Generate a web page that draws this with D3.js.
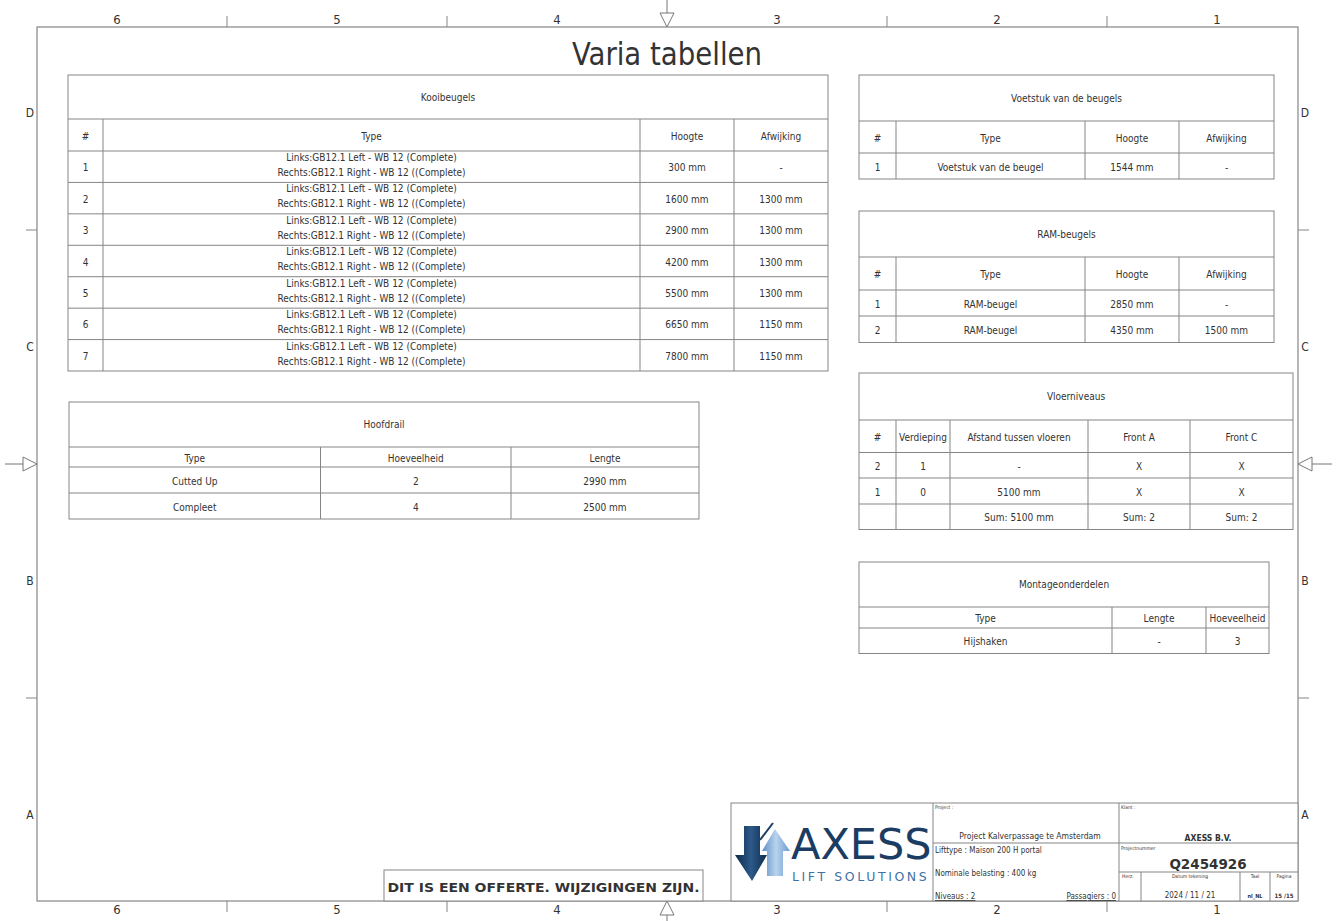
<!DOCTYPE html>
<html><head><meta charset="utf-8">
<script src="https://cdn.jsdelivr.net/npm/d3@7"></script>
<style>
html,body{margin:0;padding:0;background:#fff;}
svg{display:block;}
text{fill:#333;}
</style></head>
<body>
<svg id="c" width="1337" height="921"></svg>
<script>
// ---------- DATA ----------
const pageTitle = "Varia tabellen";
const zoneNumbers = ["6","5","4","3","2","1"];
const zoneLetters = ["D","C","B","A"];

const kooiTitle = "Kooibeugels";
const kooiHeaders = ["#","Type","Hoogte","Afwijking"];
const kooiNr = ["1","2","3","4","5","6","7"];
const kooiLinks = ["Links:GB12.1 Left - WB 12 (Complete)","Links:GB12.1 Left - WB 12 (Complete)","Links:GB12.1 Left - WB 12 (Complete)","Links:GB12.1 Left - WB 12 (Complete)","Links:GB12.1 Left - WB 12 (Complete)","Links:GB12.1 Left - WB 12 (Complete)","Links:GB12.1 Left - WB 12 (Complete)"];
const kooiRechts = ["Rechts:GB12.1 Right - WB 12 ((Complete)","Rechts:GB12.1 Right - WB 12 ((Complete)","Rechts:GB12.1 Right - WB 12 ((Complete)","Rechts:GB12.1 Right - WB 12 ((Complete)","Rechts:GB12.1 Right - WB 12 ((Complete)","Rechts:GB12.1 Right - WB 12 ((Complete)","Rechts:GB12.1 Right - WB 12 ((Complete)"];
const kooiHoogte = ["300 mm","1600 mm","2900 mm","4200 mm","5500 mm","6650 mm","7800 mm"];
const kooiAfwijking = ["-","1300 mm","1300 mm","1300 mm","1300 mm","1150 mm","1150 mm"];

const railTitle = "Hoofdrail";
const railHeaders = ["Type","Hoeveelheid","Lengte"];
const railType = ["Cutted Up","Compleet"];
const railAantal = ["2","4"];
const railLengte = ["2990 mm","2500 mm"];

const voetTitle = "Voetstuk van de beugels";
const voetHeaders = ["#","Type","Hoogte","Afwijking"];
const voetNr = ["1"];
const voetType = ["Voetstuk van de beugel"];
const voetHoogte = ["1544 mm"];
const voetAfwijking = ["-"];

const ramTitle = "RAM-beugels";
const ramHeaders = ["#","Type","Hoogte","Afwijking"];
const ramNr = ["1","2"];
const ramType = ["RAM-beugel","RAM-beugel"];
const ramHoogte = ["2850 mm","4350 mm"];
const ramAfwijking = ["-","1500 mm"];

const vloerTitle = "Vloerniveaus";
const vloerHeaders = ["#","Verdieping","Afstand tussen vloeren","Front A","Front C"];
const vloerNr = ["2","1",""];
const vloerVerdieping = ["1","0",""];
const vloerAfstand = ["-","5100 mm","Sum: 5100 mm"];
const vloerFrontA = ["X","X","Sum: 2"];
const vloerFrontC = ["X","X","Sum: 2"];

const montTitle = "Montageonderdelen";
const montHeaders = ["Type","Lengte","Hoeveelheid"];
const montType = ["Hijshaken"];
const montLengte = ["-"];
const montAantal = ["3"];

const tbProject = "Project Kalverpassage te Amsterdam";
const tbLifttype = "Lifttype : Maison 200 H portal";
const tbBelasting = "Nominale belasting : 400 kg";
const tbNiveaus = "Niveaus : 2";
const tbPassagiers = "Passagiers : 0";
const tbKlant = "AXESS B.V.";
const tbProjectnr = "Q2454926";
const tbDatum = "2024 / 11 / 21";
const tbTaal = "nl_NL";
const tbPagina = "15 /15";
const offerteText = "DIT IS EEN OFFERTE. WIJZIGINGEN ZIJN.";

// ---------- DRAWING ----------
const svg = d3.select("#c");
const LINE = "#858585";
const FONT = "'DejaVu Sans Condensed','DejaVu Sans',sans-serif";

const F = {x0:37, x1:1298, y0:27, y1:901};
svg.append("rect").attr("x",F.x0).attr("y",F.y0).attr("width",F.x1-F.x0).attr("height",F.y1-F.y0)
  .attr("fill","none").attr("stroke",LINE).attr("stroke-width",1.2);

// zone scales
const zx = d3.scaleLinear().domain([0,6]).range([667-660,667+660]);
const zy = d3.scaleLinear().domain([0,4]).range([464-468,464+468]);
const frame = svg.append("g");
zoneNumbers.forEach((n,i)=>{
  const cx = zx(i+0.5);
  frame.append("text").attr("x",cx).attr("y",24).attr("text-anchor","middle")
    .attr("font-family",FONT).attr("font-size",13).text(n);
  frame.append("text").attr("x",cx).attr("y",914).attr("text-anchor","middle")
    .attr("font-family",FONT).attr("font-size",13).text(n);
});
[1,2,4,5].forEach(i=>{
  const x = zx(i);
  frame.append("line").attr("x1",x).attr("x2",x).attr("y1",16).attr("y2",F.y0).attr("stroke",LINE);
  frame.append("line").attr("x1",x).attr("x2",x).attr("y1",F.y1).attr("y2",912).attr("stroke",LINE);
});
zoneLetters.forEach((l,i)=>{
  const cy = zy(i+0.5);
  frame.append("text").attr("x",30).attr("y",cy+4).attr("text-anchor","middle")
    .attr("font-family",FONT).attr("font-size",12).text(l);
  frame.append("text").attr("x",1305).attr("y",cy+4).attr("text-anchor","middle")
    .attr("font-family",FONT).attr("font-size",12).text(l);
});
[1,3].forEach(i=>{
  const y = zy(i);
  frame.append("line").attr("x1",26).attr("x2",F.x0).attr("y1",y).attr("y2",y).attr("stroke",LINE);
  frame.append("line").attr("x1",F.x1).attr("x2",1309).attr("y1",y).attr("y2",y).attr("stroke",LINE);
});
// centering arrows
const arr = frame.append("g").attr("fill","#fff").attr("stroke","#777").attr("stroke-width",1);
arr.append("line").attr("x1",667).attr("x2",667).attr("y1",0).attr("y2",13);
arr.append("path").attr("d","M660,13L674,13L667,27Z");
arr.append("line").attr("x1",667).attr("x2",667).attr("y1",915).attr("y2",921);
arr.append("path").attr("d","M660,915L674,915L667,901Z");
arr.append("line").attr("x1",5).attr("x2",23).attr("y1",464).attr("y2",464);
arr.append("path").attr("d","M23,457L23,471L37,464Z");
arr.append("line").attr("x1",1312).attr("x2",1332).attr("y1",464).attr("y2",464);
arr.append("path").attr("d","M1312,457L1312,471L1298,464Z");

// Title
svg.append("text").attr("x",667).attr("y",65).attr("text-anchor","middle")
  .attr("font-family","'DejaVu Sans Condensed','DejaVu Sans',sans-serif").attr("font-size",32)
  .attr("textLength",190).attr("lengthAdjust","spacingAndGlyphs").attr("fill","#111").text(pageTitle);

// generic table
function drawTable(cols, rows, title, headers, columns, opts={}) {
  const g = svg.append("g");
  const x0 = cols[0], x1 = cols[cols.length-1];
  const y0 = rows[0], y1 = rows[rows.length-1];
  g.append("rect").attr("x",x0).attr("y",y0).attr("width",x1-x0).attr("height",y1-y0)
    .attr("fill","#fff").attr("stroke",LINE).attr("stroke-width",1);
  rows.slice(1,-1).forEach(y=>{
    g.append("line").attr("x1",x0).attr("x2",x1).attr("y1",y).attr("y2",y).attr("stroke",LINE);
  });
  cols.slice(1,-1).forEach(x=>{
    g.append("line").attr("x1",x).attr("x2",x).attr("y1",rows[1]).attr("y2",y1).attr("stroke",LINE);
  });
  const txt = (x,y,s) => g.append("text").attr("x",x).attr("y",y).attr("text-anchor","middle")
      .attr("dominant-baseline","central").attr("font-family",FONT).attr("font-size",opts.fs||10).text(s);
  txt((x0+x1)/2,(rows[0]+rows[1])/2,title);
  headers.forEach((h,j)=>{
    txt((cols[j]+cols[j+1])/2,(rows[1]+rows[2])/2+1,h);
  });
  const n = columns[0].length;
  for (let i=0;i<n;i++){
    const ra = rows[2+i], rb = rows[3+i];
    columns.forEach((col,j)=>{
      const cx = (cols[j]+cols[j+1])/2;
      const v = col[i];
      if (Array.isArray(v)) {
        txt(cx, ra+6.5, v[0]);
        txt(cx, ra+21.5, v[1]);
      } else {
        txt(cx,(ra+rb)/2+1,v);
      }
    });
  }
  return g;
}

// Kooibeugels
const kooiRowY = d3.scaleLinear().domain([0,kooiNr.length]).range([151,371]);
drawTable([68,103,640,734,828],
  [75,119,...d3.range(kooiNr.length+1).map(i=>kooiRowY(i))],
  kooiTitle, kooiHeaders,
  [kooiNr, kooiLinks.map((l,i)=>[l,kooiRechts[i]]), kooiHoogte, kooiAfwijking]);

// Hoofdrail
drawTable([69,320.5,511,699],[402,447,467,493,519],
  railTitle, railHeaders, [railType, railAantal, railLengte]);

// Voetstuk
drawTable([859,896,1085,1179,1274],[75,121,153,179],
  voetTitle, voetHeaders, [voetNr, voetType, voetHoogte, voetAfwijking]);

// RAM-beugels
drawTable([859,896,1085,1179,1274],[211,257,290,316,342.5],
  ramTitle, ramHeaders, [ramNr, ramType, ramHoogte, ramAfwijking]);

// Vloerniveaus
drawTable([859,896,950,1088,1190,1293],[373,420,452.5,478,504,529.5],
  vloerTitle, vloerHeaders, [vloerNr, vloerVerdieping, vloerAfstand, vloerFrontA, vloerFrontC]);

// Montageonderdelen
drawTable([859,1112,1206,1269],[562,607,628,653.5],
  montTitle, montHeaders, [montType, montLengte, montAantal]);

// Offerte box
const off = svg.append("g");
off.append("rect").attr("x",384).attr("y",870).attr("width",319).attr("height",F.y1-870)
  .attr("fill","#fff").attr("stroke",LINE);
off.append("text").attr("x",543.5).attr("y",892).attr("text-anchor","middle")
  .attr("font-family","'DejaVu Sans','Verdana',sans-serif").attr("font-weight","bold").attr("font-size",11.5)
  .attr("textLength",312).attr("lengthAdjust","spacingAndGlyphs").attr("fill","#111").text(offerteText);

// Title block
const tb = svg.append("g");
const TB = {x0:731, y0:803, x1:F.x1, y1:F.y1, v1:933, v2:1119, h1:843, h2:872};
tb.append("rect").attr("x",TB.x0).attr("y",TB.y0).attr("width",TB.x1-TB.x0).attr("height",TB.y1-TB.y0)
  .attr("fill","#fff").attr("stroke",LINE);
const L = (x1,y1,x2,y2)=>tb.append("line").attr("x1",x1).attr("y1",y1).attr("x2",x2).attr("y2",y2).attr("stroke",LINE);
L(TB.v1,TB.y0,TB.v1,TB.y1);
L(TB.v2,TB.y0,TB.v2,TB.y1);
L(TB.v1,TB.h1,TB.x1,TB.h1);
L(TB.v2,TB.h2,TB.x1,TB.h2);
[1141,1240,1270].forEach(x=>L(x,TB.h2,x,TB.y1));
const T = (x,y,s,fs,anchor="start",w="normal",fam=FONT)=>tb.append("text").attr("x",x).attr("y",y)
  .attr("text-anchor",anchor).attr("font-family",fam).attr("font-size",fs).attr("font-weight",w).text(s);
T(935,809,"Project :",5);
T(1121,809,"Klant :",5);
T(1030,839,tbProject,8.5,"middle");
T(935,853,tbLifttype,8);
T(935,876,tbBelasting,8);
T(935,899,tbNiveaus,8).attr("text-decoration","underline");
T(1116,899,tbPassagiers,8,"end").attr("text-decoration","underline");
T(1208,841,tbKlant,8.5,"middle","bold");
T(1121,850,"Projectnummer",5);
T(1208,869,tbProjectnr,13.5,"middle","bold","'DejaVu Sans',sans-serif");
T(1122,878,"Herz.",5);
T(1190,878,"Datum tekening",5,"middle");
T(1255,878,"Taal",5,"middle");
T(1284,878,"Pagina",5,"middle");
T(1190,898,tbDatum,8,"middle");
T(1255,898,tbTaal,5.5,"middle","bold");
T(1284,898,tbPagina,6,"middle","bold");

// Logo
const logo = svg.append("g");
const defs = svg.append("defs");
const grad1 = defs.append("linearGradient").attr("id","gDark").attr("x1",0).attr("x2",1).attr("y1",0).attr("y2",0);
grad1.append("stop").attr("offset",0).attr("stop-color","#0d2a4a");
grad1.append("stop").attr("offset",0.5).attr("stop-color","#2d5a8a");
grad1.append("stop").attr("offset",1).attr("stop-color","#0d2a4a");
const grad2 = defs.append("linearGradient").attr("id","gLight").attr("x1",0).attr("x2",1).attr("y1",0).attr("y2",0);
grad2.append("stop").attr("offset",0).attr("stop-color","#5d8fc4");
grad2.append("stop").attr("offset",0.5).attr("stop-color","#b8d3ee");
grad2.append("stop").attr("offset",1).attr("stop-color","#6d9bcc");
logo.append("path").attr("d","M744,826L760,826L760,855L767,855L752,881L735,855L744,855Z").attr("fill","url(#gDark)");
logo.append("path").attr("d","M767,876L783,876L783,851L790,851L775,829L762,851L767,851Z").attr("fill","url(#gLight)");
logo.append("line").attr("x1",760).attr("y1",840).attr("x2",773).attr("y2",823).attr("stroke","#1c3d63").attr("stroke-width",2);
logo.append("text").attr("x",791).attr("y",859)
  .attr("font-family","'DejaVu Sans',sans-serif").attr("font-size",43)
  .style("fill","#1c3d63").text("AXESS");
logo.append("text").attr("x",792).attr("y",881).attr("font-family","'DejaVu Sans',sans-serif").attr("font-size",12.5)
  .attr("letter-spacing",2.6).style("fill","#3f72a8").text("LIFT SOLUTIONS");
</script>
</body></html>
